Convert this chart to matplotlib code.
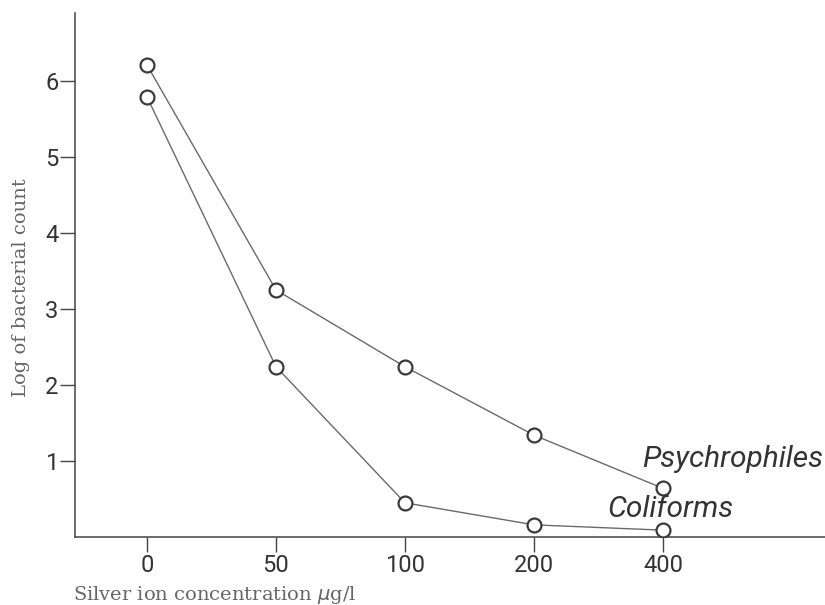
import matplotlib
matplotlib.use("Agg")
import matplotlib.pyplot as plt

concentrations = ["0", "50", "100", "200", "400"]
psychrophiles = [6.21, 3.25, 2.24, 1.34, 0.64]
coliforms = [5.79, 2.24, 0.45, 0.16, 0.09]
y_ticks = [1, 2, 3, 4, 5, 6]

fig = plt.figure(figsize=(8.25, 6.05), dpi=100)
ax = fig.add_axes([75/825, 1-537/605, 750/825, (537-13)/605])

pos = list(range(len(concentrations)))
line_col = "#6a6a6a"
mk_col = "#3a3a3a"
for vals in (psychrophiles, coliforms):
    ax.plot(pos, vals, color=line_col, lw=1.0, marker="o", ms=10,
            mfc="white", mec=mk_col, mew=1.6, zorder=3)

ax.set_xlim((75-147)/129, (825-147)/129)
ax.set_ylim(0, (537-13)/76)
ax.set_xticks(pos)
ax.set_xticklabels(concentrations)
ax.set_yticks(y_ticks)
ax.set_yticklabels([str(t) for t in y_ticks])

for s in ("top", "right"):
    ax.spines[s].set_visible(False)
for s in ("left", "bottom"):
    ax.spines[s].set_color("#444444")
    ax.spines[s].set_linewidth(1.1)

ax.tick_params(axis="both", direction="out", length=11, width=1.0,
               color="#444444", pad=1, labelcolor="#333333")
for lab in ax.get_xticklabels() + ax.get_yticklabels():
    lab.set_fontfamily("Roboto")
    lab.set_fontsize(17)

ax.text(4.54, 0.92, "Psychrophiles", style="italic", family="Roboto",
        fontsize=21.5, color="#333333", ha="center", va="baseline")
ax.text(4.06, 0.26, "Coliforms", style="italic", family="Roboto",
        fontsize=21.5, color="#333333", ha="center", va="baseline")

fig.text(73/825, 1-595/605, r"Silver ion concentration $\mu$g/l",
         family="DejaVu Serif", fontsize=14, color="#666666",
         ha="left", va="center")
fig.text(21/825, 1-288/605, "Log of bacterial count",
         family="DejaVu Serif", fontsize=14, color="#666666",
         ha="center", va="center", rotation=90)

fig.savefig("out.png", dpi=100)
